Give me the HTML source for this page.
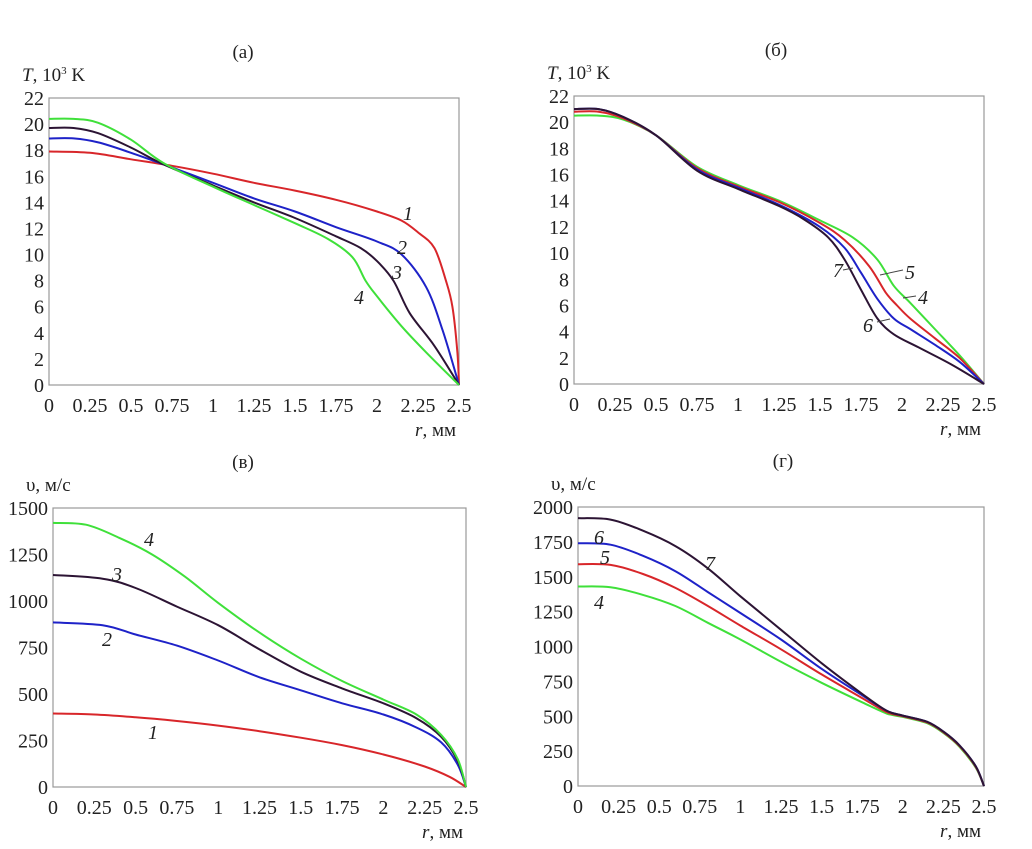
<!DOCTYPE html>
<html><head><meta charset="utf-8"><style>
body{margin:0;background:#fff}
svg{display:block}
text{font-family:"Liberation Serif","DejaVu Serif",serif;fill:#222}
.tk{font-size:20px}
.ax{font-size:19px}
.lb{font-size:20px;font-style:italic}
</style></head><body>
<svg id="fig" width="1032" height="849" viewBox="0 0 1032 849" font-family="Liberation Serif, DejaVu Serif, serif"></svg>
<script>
// shared x ticks
const xTicks=[0,0.25,0.5,0.75,1,1.25,1.5,1.75,2,2.25,2.5];
const xTickLabels=["0","0.25","0.5","0.75","1","1.25","1.5","1.75","2","2.25","2.5"];
// panel a (T, 10^3 K)
const aTicks=[0,2,4,6,8,10,12,14,16,18,20,22];
const a1r=[0,0.25,0.5,0.75,1,1.25,1.5,1.75,2,2.15,2.25,2.35,2.42,2.46,2.49,2.5];
const a1v=[17.9,17.8,17.3,16.8,16.2,15.5,14.9,14.2,13.3,12.6,11.7,10.5,8,6,2.5,0];
const a2r=[0,0.15,0.3,0.5,0.7,1,1.25,1.5,1.75,2,2.15,2.3,2.4,2.5];
const a2v=[18.9,18.9,18.6,17.8,16.9,15.5,14.3,13.3,12.1,11.0,10.0,7.5,4.2,0];
const a3r=[0,0.15,0.3,0.5,0.7,1,1.25,1.5,1.75,1.9,2.0,2.1,2.2,2.35,2.5];
const a3v=[19.7,19.7,19.3,18.2,16.9,15.3,14.0,12.8,11.4,10.5,9.5,8.0,5.5,3.0,0];
const a4r=[0,0.15,0.3,0.5,0.7,1,1.25,1.5,1.7,1.85,1.93,2.0,2.15,2.3,2.5];
const a4v=[20.4,20.4,20.1,18.8,17.0,15.2,13.8,12.4,11.2,9.8,8.0,6.8,4.5,2.5,0];
// panel б
const b4r=[0,0.15,0.3,0.5,0.75,1,1.25,1.5,1.7,1.85,1.95,2.05,2.2,2.35,2.5];
const b4v=[20.5,20.5,20.2,19.0,16.6,15.2,14.0,12.5,11.2,9.5,7.5,6.2,4.2,2.2,0];
const b5r=[0,0.15,0.3,0.5,0.75,1,1.25,1.5,1.65,1.8,1.9,1.97,2.05,2.2,2.35,2.5];
const b5v=[20.8,20.8,20.3,19.0,16.5,15.1,13.9,12.3,11.0,9.0,7.0,6.0,5.0,3.5,2.0,0];
const b6r=[0,0.15,0.3,0.5,0.75,1,1.25,1.5,1.65,1.75,1.85,1.95,2.05,2.2,2.35,2.5];
const b6v=[21.0,21.0,20.4,19.0,16.4,15.0,13.7,12.0,10.4,8.5,6.5,5.0,4.2,3.0,1.7,0];
const b7r=[0,0.15,0.3,0.5,0.75,1,1.25,1.4,1.55,1.65,1.75,1.85,1.95,2.1,2.3,2.5];
const b7v=[21.0,21.0,20.4,19.0,16.3,14.9,13.6,12.6,11.2,9.5,7.2,5.0,3.8,2.8,1.5,0];
// panel в (v, m/s)
const cTicks=[0,250,500,750,1000,1250,1500];
const c1r=[0,0.25,0.5,0.75,1,1.25,1.5,1.75,2,2.25,2.4,2.5];
const c1v=[395,390,375,355,330,300,265,225,175,110,55,0];
const c2r=[0,0.3,0.5,0.75,1,1.25,1.5,1.75,2,2.2,2.35,2.45,2.5];
const c2v=[885,870,820,760,680,590,520,450,390,320,240,120,0];
const c3r=[0,0.3,0.5,0.75,1,1.25,1.5,1.75,2,2.2,2.35,2.45,2.5];
const c3v=[1140,1120,1070,970,870,740,620,530,450,370,270,140,0];
const c4r=[0,0.2,0.4,0.6,0.8,1,1.25,1.5,1.75,2,2.2,2.35,2.45,2.5];
const c4v=[1420,1410,1340,1250,1130,990,830,690,570,470,390,280,150,0];
// panel г
const dTicks=[0,250,500,750,1000,1250,1500,1750,2000];
const dr=[0,0.2,0.4,0.6,0.8,1,1.25,1.5,1.75,1.9,2,2.15,2.25,2.35,2.45,2.5];
const d4v=[1430,1425,1370,1290,1170,1050,890,740,600,520,495,450,380,280,130,0];
const d5v=[1590,1585,1520,1420,1290,1150,980,800,630,530,500,455,385,285,135,0];
const d6v=[1740,1730,1650,1540,1390,1240,1050,840,650,540,505,460,390,290,140,0];
const d7v=[1920,1910,1830,1720,1560,1360,1120,880,660,540,505,460,390,290,140,0];

const NS="http://www.w3.org/2000/svg";
const svg=document.getElementById('fig');
const RED="#d8262a",BLUE="#1e22c8",BLK="#2c1434",GRN="#3fe03a";
function mk(tag,attrs,parent){const e=document.createElementNS(NS,tag);for(const k in attrs)e.setAttribute(k,attrs[k]);(parent||svg).appendChild(e);return e;}
function txt(x,y,s,cls,anchor,parent){const t=mk('text',{x:x,y:y,class:cls,'text-anchor':anchor||'start','font-family':'Liberation Serif, DejaVu Serif, serif'},parent);t.textContent=s;return t;}
function smooth(pts){let d="M"+pts[0][0]+","+pts[0][1];for(let i=0;i<pts.length-1;i++){const p0=pts[Math.max(0,i-1)],p1=pts[i],p2=pts[i+1],p3=pts[Math.min(pts.length-1,i+2)];const c1=[p1[0]+(p2[0]-p0[0])/6,p1[1]+(p2[1]-p0[1])/6],c2=[p2[0]-(p3[0]-p1[0])/6,p2[1]-(p3[1]-p1[1])/6];d+=" C"+c1[0].toFixed(1)+","+c1[1].toFixed(1)+" "+c2[0].toFixed(1)+","+c2[1].toFixed(1)+" "+p2[0].toFixed(1)+","+p2[1].toFixed(1);}return d;}

function panel(o){
  const g=mk('g',{});
  
  
  const X=r=>o.x0+(r/2.5)*(o.x1-o.x0);
  const Y=v=>o.y1-(v/o.ymax)*(o.y1-o.y0);
  const box=mk('rect',{x:o.x0,y:o.y0,width:o.x1-o.x0,height:o.y1-o.y0,fill:'none',stroke:'#999','stroke-width':1.2},g);
  
  
  o.yTicks.forEach(v=>{const t=txt(o.x0-5,Y(v)+7,String(v),'tk','end',g);});
  xTicks.forEach((r,i)=>{const t=txt(X(r),o.y1+27,xTickLabels[i],'tk','middle',g);});
  const tt=txt(o.titleX,o.y0-40,o.title,'ax','middle',g);
  
  
  const yl=mk('text',{x:o.x0-27,y:o.y0-17,class:'ax','font-family':'Liberation Serif, DejaVu Serif, serif'},g);
  
  
  yl.innerHTML=o.ylab;
  const xl=mk('text',{x:o.x1-3,y:o.y1+51,class:'ax','text-anchor':'end','font-family':'Liberation Serif, DejaVu Serif, serif'},g);
  
  
  xl.innerHTML='<tspan font-style="italic">r</tspan>,  мм';
  o.series.forEach(s=>{
    const p=mk('path',{d:smooth(s.r.map((r,i)=>[X(r),Y(s.v[i])])),fill:'none',stroke:s.c,'stroke-width':2},g);
    
    
  });
  o.labels.forEach(l=>{
    if(l.ln){const ln=mk('line',{x1:l.ln[0],y1:l.ln[1],x2:l.ln[2],y2:l.ln[3],stroke:'#444','stroke-width':1},g);}
    const t=txt(l.x,l.y,l.t,'lb','middle',g);
    
    
  });
}
const Tlab='<tspan font-style="italic">T</tspan>, 10<tspan font-size="11" dy="-7">3</tspan><tspan dy="7"> K</tspan>';
const Vlab='υ,  м/с';
panel({name:'panel-a',x0:49,x1:459,y0:98,y1:385,ymax:22,yTicks:aTicks,title:'(а)',titleX:243,ylab:Tlab,
  series:[{n:'1',r:a1r,v:a1v,c:RED},{n:'2',r:a2r,v:a2v,c:BLUE},{n:'3',r:a3r,v:a3v,c:BLK},{n:'4',r:a4r,v:a4v,c:GRN}],
  labels:[{t:'1',x:408,y:220},{t:'2',x:402,y:254},{t:'3',x:397,y:279},{t:'4',x:359,y:304}]});
panel({name:'panel-b',x0:574,x1:984,y0:96,y1:384,ymax:22,yTicks:aTicks,title:'(б)',titleX:776,ylab:Tlab,
  series:[{n:'4',r:b4r,v:b4v,c:GRN},{n:'5',r:b5r,v:b5v,c:RED},{n:'6',r:b6r,v:b6v,c:BLUE},{n:'7',r:b7r,v:b7v,c:BLK}],
  labels:[{t:'7',x:838,y:277,ln:[843,270,853,268]},{t:'5',x:910,y:279,ln:[880,275,903,270]},{t:'4',x:923,y:304,ln:[903,298,916,296]},{t:'6',x:868,y:332,ln:[877,322,890,319]}]});
panel({name:'panel-v',x0:53,x1:466,y0:508,y1:787,ymax:1500,yTicks:cTicks,title:'(в)',titleX:243,ylab:Vlab,
  series:[{n:'1',r:c1r,v:c1v,c:RED},{n:'2',r:c2r,v:c2v,c:BLUE},{n:'3',r:c3r,v:c3v,c:BLK},{n:'4',r:c4r,v:c4v,c:GRN}],
  labels:[{t:'4',x:149,y:546},{t:'3',x:117,y:581},{t:'2',x:107,y:646},{t:'1',x:153,y:739}]});
panel({name:'panel-g',x0:578,x1:984,y0:507,y1:786,ymax:2000,yTicks:dTicks,title:'(г)',titleX:783,ylab:Vlab,
  series:[{n:'4',r:dr,v:d4v,c:GRN},{n:'5',r:dr,v:d5v,c:RED},{n:'6',r:dr,v:d6v,c:BLUE},{n:'7',r:dr,v:d7v,c:BLK}],
  labels:[{t:'6',x:599,y:544},{t:'5',x:605,y:564},{t:'4',x:599,y:609},{t:'7',x:710,y:570}]});
</script>
</body></html>
